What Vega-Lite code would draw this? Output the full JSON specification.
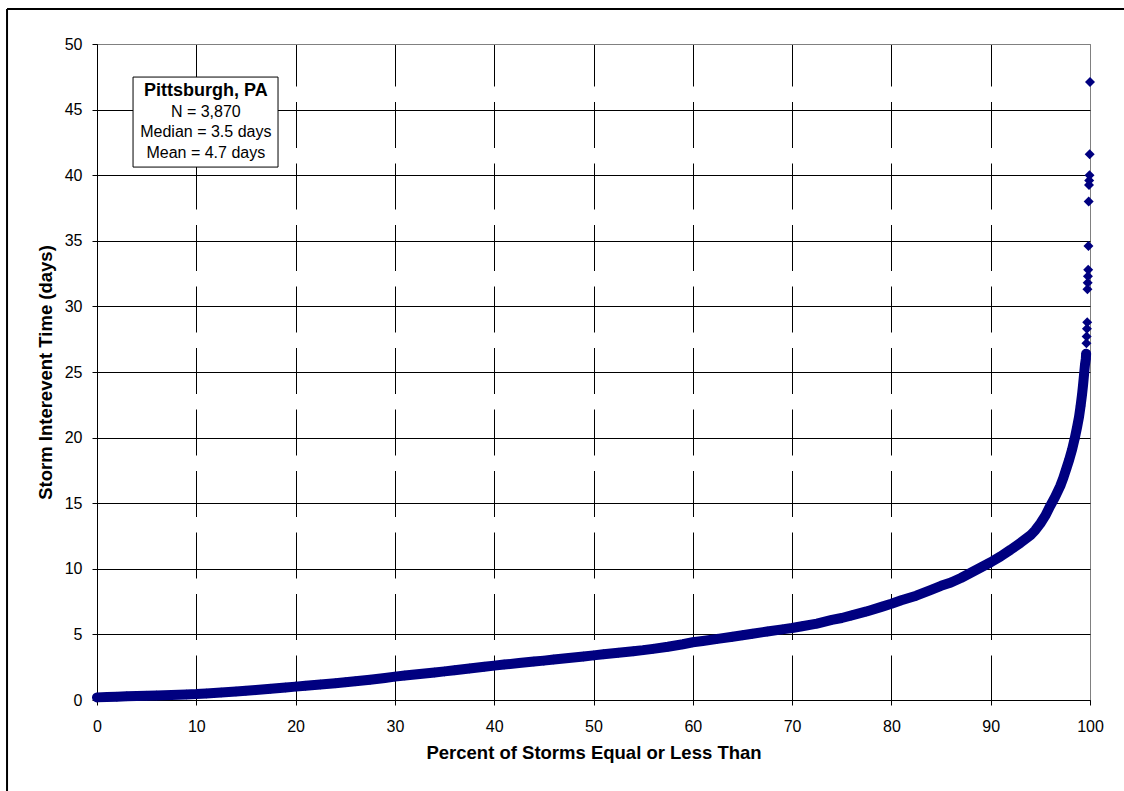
{
  "$schema": "https://vega.github.io/schema/vega-lite/v6.json",
  "width": 993,
  "height": 656,
  "autosize": {"type": "none"},
  "padding": {"left": 97, "top": 44, "right": 34, "bottom": 91},
  "background": "white",
  "config": {"view": {"stroke": "#808080", "strokeWidth": 1}, "font": "Liberation Sans"},
  "datasets": {
    "storms": [
      {"pct": 0, "days": 0.2}, {"pct": 1, "days": 0.22}, {"pct": 2, "days": 0.25}, {"pct": 3, "days": 0.28},
      {"pct": 4, "days": 0.3}, {"pct": 5, "days": 0.33}, {"pct": 6, "days": 0.35}, {"pct": 7.5, "days": 0.38},
      {"pct": 9, "days": 0.42}, {"pct": 10, "days": 0.45}, {"pct": 11, "days": 0.5}, {"pct": 12.5, "days": 0.57},
      {"pct": 14, "days": 0.64}, {"pct": 15, "days": 0.7}, {"pct": 16, "days": 0.76}, {"pct": 17.5, "days": 0.85},
      {"pct": 19, "days": 0.95}, {"pct": 20, "days": 1.02}, {"pct": 21, "days": 1.09}, {"pct": 22.5, "days": 1.18},
      {"pct": 24, "days": 1.28}, {"pct": 25, "days": 1.35}, {"pct": 26, "days": 1.43}, {"pct": 27.5, "days": 1.55},
      {"pct": 29, "days": 1.68}, {"pct": 30, "days": 1.78}, {"pct": 31, "days": 1.86}, {"pct": 32.5, "days": 1.98},
      {"pct": 34, "days": 2.1}, {"pct": 35, "days": 2.18}, {"pct": 36, "days": 2.27}, {"pct": 37.5, "days": 2.4},
      {"pct": 39, "days": 2.53}, {"pct": 40, "days": 2.62}, {"pct": 41, "days": 2.7}, {"pct": 42.5, "days": 2.82},
      {"pct": 44, "days": 2.93}, {"pct": 45, "days": 3.0}, {"pct": 46, "days": 3.08}, {"pct": 47.5, "days": 3.2},
      {"pct": 49, "days": 3.32}, {"pct": 50, "days": 3.4}, {"pct": 51, "days": 3.48}, {"pct": 52.5, "days": 3.6},
      {"pct": 54, "days": 3.72}, {"pct": 55, "days": 3.8}, {"pct": 56, "days": 3.9}, {"pct": 57.5, "days": 4.06},
      {"pct": 59, "days": 4.25}, {"pct": 60, "days": 4.4}, {"pct": 61, "days": 4.5}, {"pct": 62.5, "days": 4.66},
      {"pct": 64, "days": 4.82}, {"pct": 65, "days": 4.93}, {"pct": 66, "days": 5.05}, {"pct": 67.5, "days": 5.22},
      {"pct": 69, "days": 5.38}, {"pct": 70, "days": 5.49}, {"pct": 71, "days": 5.62}, {"pct": 72.5, "days": 5.82},
      {"pct": 74, "days": 6.1}, {"pct": 75, "days": 6.25}, {"pct": 76, "days": 6.45}, {"pct": 77.5, "days": 6.75},
      {"pct": 79, "days": 7.1}, {"pct": 80, "days": 7.34}, {"pct": 81, "days": 7.6}, {"pct": 82.5, "days": 7.95},
      {"pct": 84, "days": 8.4}, {"pct": 85, "days": 8.7}, {"pct": 86, "days": 8.95}, {"pct": 87, "days": 9.3},
      {"pct": 88, "days": 9.7}, {"pct": 89, "days": 10.1}, {"pct": 90, "days": 10.5}, {"pct": 91, "days": 10.95},
      {"pct": 92, "days": 11.45}, {"pct": 93, "days": 11.98}, {"pct": 94, "days": 12.55}, {"pct": 94.5, "days": 12.95},
      {"pct": 95, "days": 13.45}, {"pct": 95.5, "days": 14.05}, {"pct": 96, "days": 14.8}, {"pct": 96.5, "days": 15.5},
      {"pct": 97, "days": 16.3}, {"pct": 97.3, "days": 16.9}, {"pct": 97.6, "days": 17.6}, {"pct": 97.9, "days": 18.3},
      {"pct": 98.2, "days": 19.1}, {"pct": 98.45, "days": 19.9}, {"pct": 98.7, "days": 20.8}, {"pct": 98.9, "days": 21.6},
      {"pct": 99.05, "days": 22.4}, {"pct": 99.2, "days": 23.3}, {"pct": 99.3, "days": 24.0}, {"pct": 99.4, "days": 24.8},
      {"pct": 99.5, "days": 25.6}, {"pct": 99.58, "days": 26.0}, {"pct": 99.61, "days": 26.4},
      {"pct": 99.64, "days": 27.2}, {"pct": 99.66, "days": 27.7}, {"pct": 99.69, "days": 28.3}, {"pct": 99.72, "days": 28.8},
      {"pct": 99.74, "days": 31.3}, {"pct": 99.77, "days": 31.8}, {"pct": 99.79, "days": 32.3}, {"pct": 99.82, "days": 32.8},
      {"pct": 99.84, "days": 34.6}, {"pct": 99.87, "days": 38.0}, {"pct": 99.9, "days": 39.25}, {"pct": 99.92, "days": 39.6},
      {"pct": 99.95, "days": 40.0}, {"pct": 99.97, "days": 41.6}, {"pct": 100, "days": 47.1}
    ]
  },
  "layer": [
    {
      "data": {"name": "storms"},
      "transform": [{"filter": "datum.days <= 26.5"}],
      "mark": {"type": "line", "color": "#000080", "strokeWidth": 10, "strokeCap": "round", "strokeJoin": "round"},
      "encoding": {
        "x": {
          "field": "pct", "type": "quantitative",
          "scale": {"domain": [0, 100], "nice": false, "zero": false},
          "axis": {
            "title": "Percent of Storms Equal or Less Than",
            "values": [0, 10, 20, 30, 40, 50, 60, 70, 80, 90, 100],
            "grid": true,
            "gridColor": {"condition": {"test": "datum.value == 100", "value": "#808080"}, "value": "#000000"},
            "gridDash": {"condition": {"test": "datum.value == 100", "value": []}, "value": [46, 15.5]},
            "gridDashOffset": 4,
            "gridOpacity": 1,
            "domainColor": "#000000",
            "tickColor": "#000000",
            "tickSize": 5,
            "labelFont": "Liberation Sans",
            "labelFontSize": 16,
            "labelColor": "#000000",
            "labelPadding": 13,
            "labelFlush": false,
            "labelOverlap": false,
            "titleFont": "Liberation Sans",
            "titleFontSize": 18.5,
            "titleFontWeight": "bold",
            "titleColor": "#000000",
            "titlePadding": 9
          }
        },
        "y": {
          "field": "days", "type": "quantitative",
          "scale": {"domain": [0, 50], "nice": false, "zero": false},
          "axis": {
            "title": "Storm Interevent Time (days)",
            "values": [0, 5, 10, 15, 20, 25, 30, 35, 40, 45, 50],
            "grid": true,
            "gridColor": {"condition": {"test": "datum.value == 50", "value": "#808080"}, "value": "#000000"},
            "gridOpacity": 1,
            "domainColor": "#000000",
            "tickColor": "#000000",
            "tickSize": 5,
            "labelFont": "Liberation Sans",
            "labelFontSize": 16,
            "labelColor": "#000000",
            "labelPadding": 10,
            "labelFlush": false,
            "labelOverlap": false,
            "titleFont": "Liberation Sans",
            "titleFontSize": 18.5,
            "titleFontWeight": "bold",
            "titleColor": "#000000",
            "titlePadding": 9
          }
        }
      }
    },
    {
      "data": {"name": "storms"},
      "mark": {"type": "point", "shape": "diamond", "filled": true, "color": "#000080", "size": 100, "opacity": 1},
      "encoding": {
        "x": {"field": "pct", "type": "quantitative"},
        "y": {"field": "days", "type": "quantitative"}
      }
    },
    {
      "data": {"values": [{}]},
      "mark": {"type": "rule", "color": "#000000", "strokeWidth": 2},
      "encoding": {
        "x": {"datum": -9.06, "type": "quantitative"},
        "x2": {"datum": 115},
        "y": {"datum": 52.67, "type": "quantitative"}
      }
    },
    {
      "data": {"values": [{}]},
      "mark": {"type": "rule", "color": "#000000", "strokeWidth": 2},
      "encoding": {
        "x": {"datum": -9.06, "type": "quantitative"},
        "y": {"datum": 52.67, "type": "quantitative"},
        "y2": {"datum": -10}
      }
    },
    {
      "data": {"values": [{}]},
      "mark": {"type": "rect", "fill": "white", "stroke": "#000000", "strokeWidth": 1},
      "encoding": {
        "x": {"datum": 3.63, "type": "quantitative"},
        "x2": {"datum": 18.23},
        "y": {"datum": 47.48, "type": "quantitative"},
        "y2": {"datum": 40.62}
      }
    },
    {
      "data": {"values": [{}]},
      "mark": {"type": "text", "font": "Liberation Sans", "fontSize": 18, "fontWeight": "bold", "align": "center", "baseline": "alphabetic", "color": "#000000"},
      "encoding": {
        "x": {"datum": 10.96, "type": "quantitative"},
        "y": {"datum": 46.04, "type": "quantitative"},
        "text": {"value": "Pittsburgh, PA"}
      }
    },
    {
      "data": {"values": [{}]},
      "mark": {"type": "text", "font": "Liberation Sans", "fontSize": 16, "align": "center", "baseline": "alphabetic", "lineHeight": 20.5, "color": "#000000"},
      "encoding": {
        "x": {"datum": 10.96, "type": "quantitative"},
        "y": {"datum": 44.46, "type": "quantitative"},
        "text": {"value": ["N = 3,870", "Median = 3.5 days", "Mean = 4.7 days"]}
      }
    }
  ]
}
